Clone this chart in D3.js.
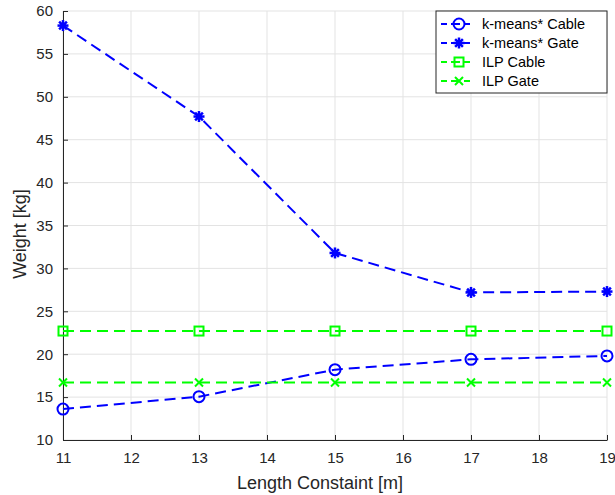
<!DOCTYPE html>
<html>
<head>
<meta charset="utf-8">
<script src="https://cdn.jsdelivr.net/npm/d3@7"></script>
<style>
  body { margin: 0; background: #fff; }
  text { font-family: "Liberation Sans", Arial, sans-serif; }
</style>
</head>
<body>
<script>
const lengths = [11, 13, 15, 17, 19];
const kmeansCable = [13.6, 15.05, 18.2, 19.4, 19.8];
const kmeansGate = [58.3, 47.7, 31.8, 27.2, 27.3];
const ilpCable = [22.7, 22.7, 22.7, 22.7, 22.7];
const ilpGate = [16.7, 16.7, 16.7, 16.7, 16.7];
const xTicks = [11, 12, 13, 14, 15, 16, 17, 18, 19];
const yTicks = [10, 15, 20, 25, 30, 35, 40, 45, 50, 55, 60];

const series = [
  {name: "k-means* Cable", values: kmeansCable, color: "#0000ff", marker: "circle"},
  {name: "k-means* Gate", values: kmeansGate, color: "#0000ff", marker: "star"},
  {name: "ILP Cable", values: ilpCable, color: "#00ff00", marker: "square"},
  {name: "ILP Gate", values: ilpGate, color: "#00ff00", marker: "cross"}
];

const W = 615, H = 495;
const m = {left: 63, right: 8, top: 11, bottom: 55};

const svg = d3.select("body").append("svg").attr("width", W).attr("height", H);

const x = d3.scaleLinear().domain([11, 19]).range([m.left, W - m.right]);
const y = d3.scaleLinear().domain([10, 60]).range([H - m.bottom, m.top]);

// grid
const grid = svg.append("g");
grid.selectAll(".gx").data(xTicks).enter().append("line")
  .attr("x1", d => x(d)).attr("x2", d => x(d))
  .attr("y1", y(10)).attr("y2", y(60))
  .attr("stroke", "#e3e3e3").attr("stroke-width", 1);
grid.selectAll(".gy").data(yTicks).enter().append("line")
  .attr("x1", x(11)).attr("x2", x(19))
  .attr("y1", d => y(d)).attr("y2", d => y(d))
  .attr("stroke", "#e3e3e3").attr("stroke-width", 1);

// axes
const xAxis = svg.append("g").attr("transform", `translate(0,${y(10)})`)
  .call(d3.axisBottom(x).tickValues(xTicks).tickSizeInner(-5).tickSizeOuter(0).tickPadding(12));
const yAxis = svg.append("g").attr("transform", `translate(${x(11)},0)`)
  .call(d3.axisLeft(y).tickValues(yTicks).tickSizeInner(-5).tickSizeOuter(0).tickPadding(10));
[xAxis, yAxis].forEach(a => {
  a.select(".domain").attr("stroke", "#262626").attr("stroke-width", 1);
  a.selectAll(".tick line").attr("stroke", "#262626");
  a.selectAll(".tick text").attr("fill", "#262626").style("font-size", "15px");
});

svg.append("text").attr("x", 320).attr("y", 489)
  .attr("text-anchor", "middle").attr("fill", "#262626").style("font-size", "18px")
  .text("Length Constaint [m]");
svg.append("text").attr("transform", `translate(26,234) rotate(-90)`)
  .attr("text-anchor", "middle").attr("fill", "#262626").style("font-size", "18px")
  .text("Weight [kg]");

function drawMarker(g, type, color) {
  if (type === "circle") {
    g.append("circle").attr("r", 5.5).attr("fill", "none").attr("stroke", color).attr("stroke-width", 2);
  } else if (type === "square") {
    g.append("rect").attr("x", -4.5).attr("y", -4.5).attr("width", 9).attr("height", 9)
      .attr("fill", "none").attr("stroke", color).attr("stroke-width", 2);
  } else if (type === "star") {
    const r = 5.5;
    [0, 45, 90, 135].forEach(a => {
      const rad = a * Math.PI / 180;
      g.append("line").attr("x1", -r * Math.cos(rad)).attr("y1", -r * Math.sin(rad))
        .attr("x2", r * Math.cos(rad)).attr("y2", r * Math.sin(rad))
        .attr("stroke", color).attr("stroke-width", 2.5);
    });
    g.append("circle").attr("r", 3).attr("fill", color);
  } else if (type === "cross") {
    const r = 4;
    g.append("path").attr("d", `M${-r},${-r}L${r},${r}M${-r},${r}L${r},${-r}`)
      .attr("stroke", color).attr("stroke-width", 2);
  }
}

const line = d3.line().x(d => x(d[0])).y(d => y(d[1]));

series.forEach(s => {
  const pts = lengths.map((l, i) => [l, s.values[i]]);
  svg.append("path").datum(pts).attr("d", line)
    .attr("fill", "none").attr("stroke", s.color).attr("stroke-width", 2)
    .attr("stroke-dasharray", "11,6");
  pts.forEach(p => {
    const g = svg.append("g").attr("transform", `translate(${x(p[0])},${y(p[1])})`);
    drawMarker(g, s.marker, s.color);
  });
});

// legend
const lg = svg.append("g").attr("transform", "translate(436,11)");
lg.append("rect").attr("width", 171).attr("height", 82)
  .attr("fill", "#fff").attr("stroke", "#262626").attr("stroke-width", 1);
series.forEach((s, i) => {
  const yy = 13 + i * 19;
  lg.append("line").attr("x1", 5).attr("x2", 34).attr("y1", yy).attr("y2", yy)
    .attr("stroke", s.color).attr("stroke-width", 2).attr("stroke-dasharray", "6,4,9,4,6");
  const g = lg.append("g").attr("transform", `translate(23,${yy})`);
  drawMarker(g, s.marker, s.color);
  lg.append("text").attr("x", 46).attr("y", yy + 5).attr("fill", "#000")
    .style("font-size", "14.5px").text(s.name);
});
</script>
</body>
</html>
